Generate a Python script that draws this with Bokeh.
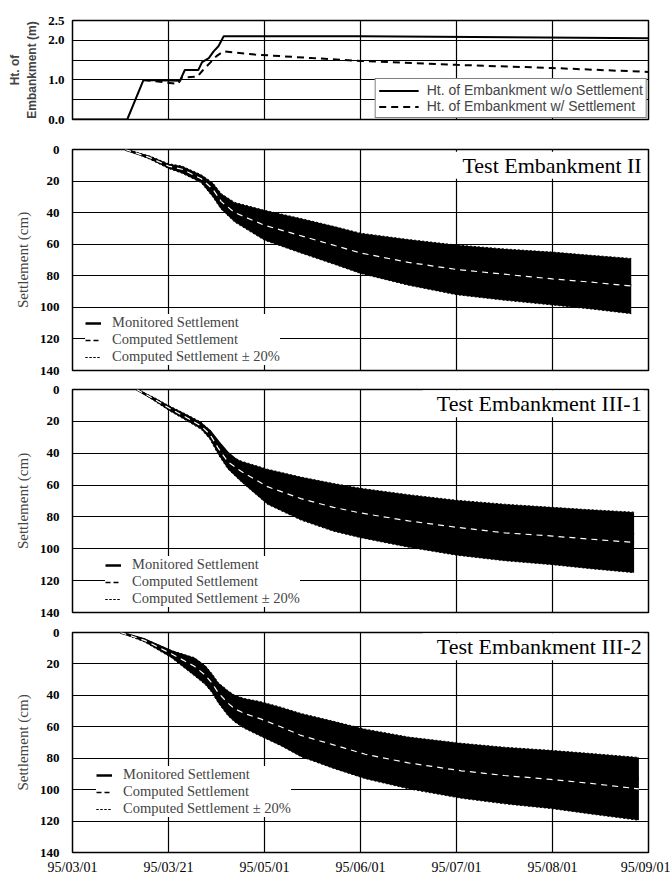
from bokeh.plotting import figure
from bokeh.layouts import column
from bokeh.models import Range1d, FixedTicker, Legend, LegendItem, Label, PrintfTickFormatter
from bokeh.embed import file_html
from bokeh.resources import INLINE

# ---------------- data ----------------
# x positions: months elapsed after 95/03/01 (one grid column per month)
month_ticks = [0, 1, 2, 3, 4, 5, 6]
month_labels = ["95/03/01", "95/03/21", "95/05/01", "95/06/01", "95/07/01", "95/08/01", "95/09/01"]

# Height of embankment (m)
ht_wo_x = [0, 0.57, 0.74, 1.12, 1.17, 1.31, 1.35, 1.42, 1.47, 1.52, 1.575, 3.0, 6.0]
ht_wo = [0, 0, 1.0, 0.98, 1.25, 1.25, 1.45, 1.55, 1.72, 1.85, 2.1, 2.1, 2.05]
ht_w_x = [0.74, 1.10, 1.14, 1.30, 1.36, 1.44, 1.50, 1.57, 1.9, 2.5, 3.0, 4.0, 5.0, 6.0]
ht_w = [1.0, 0.9, 1.06, 1.08, 1.25, 1.45, 1.6, 1.72, 1.64, 1.55, 1.48, 1.38, 1.3, 1.2]

# Test Embankment II (cm)
ii_x = [0.55, 0.8, 1.0, 1.14, 1.34, 1.46, 1.55, 1.69, 2.0, 2.4, 2.74, 3.0, 3.5, 4.0, 4.5, 5.0, 5.4, 5.82]
ii_upper = [0, 4, 9, 10.5, 16, 21, 28, 33.5, 38.5, 44, 49, 53, 57, 60.5, 63, 65, 67, 69]
ii_lower = [0, 6, 12, 15, 21, 30, 38, 46, 57.5, 66, 73, 78.5, 86, 92, 95.5, 98.5, 101, 104]
ii_computed = [0, 5, 10.5, 12.5, 18.5, 25, 33, 40, 48, 55, 61, 65.5, 71.5, 76, 79, 82, 84, 86.5]
ii_monitored = [0, 5, 10, 12, 17, 23, 31, 38, 45, 52, 58, 62, 68, 73, 77, 80, 83, 86]

# Test Embankment III-1 (cm)
iii1_x = [0.67, 0.85, 1.0, 1.2, 1.34, 1.43, 1.52, 1.62, 1.76, 2.03, 2.38, 2.72, 3.0, 3.5, 4.0, 4.5, 5.0, 5.4, 5.85]
iii1_upper = [0, 5, 10, 16, 20.5, 25.5, 33, 41, 45, 50, 55, 59, 62, 66, 69.5, 72, 74, 75.5, 77]
iii1_lower = [0, 7, 13, 20, 25, 31, 41, 50, 58, 72, 82, 89, 93, 99, 104, 107.5, 110, 112.5, 115]
iii1_computed = [0, 6, 11.5, 18, 23, 28, 37, 45.5, 51.5, 61, 68.5, 74, 77.5, 82.5, 86.5, 90, 92, 94, 96]
iii1_monitored = [0, 6, 11, 17, 22, 26, 33, 40, 47, 55, 62, 67, 71, 76, 80, 84, 87, 89, 91]

# Test Embankment III-2 (cm)
iii2_x = [0.5, 0.75, 1.03, 1.27, 1.38, 1.45, 1.52, 1.62, 1.69, 1.79, 1.96, 2.17, 2.38, 2.72, 3.05, 3.5, 4.05, 4.5, 4.98, 5.4, 5.9]
iii2_upper = [0, 4, 11.5, 16, 21, 26, 32, 37, 40, 42, 44, 47.5, 51.5, 56.5, 61.5, 66.5, 70.5, 73, 75, 77, 79.5]
iii2_lower = [0, 6, 16, 27.5, 33, 38, 45, 53, 57, 61, 66, 72, 79, 86.5, 93, 99.5, 105.5, 109, 112, 115.5, 119.5]
iii2_computed = [0, 5, 13.5, 21.5, 27, 32, 38.5, 45, 48.5, 51.5, 55, 60, 65.5, 71.5, 77.5, 83, 88, 91, 93.5, 96, 99.5]
iii2_monitored = [0, 4.5, 12, 17, 22, 28, 35, 40, 44, 48, 53, 57, 61, 66, 72, 77, 82, 85, 88, 90, 93]

settle_ticks = [0, 20, 40, 60, 80, 100, 120, 140]

SERIF = "Liberation Serif"
SANS = "Liberation Sans"
LEFT = 72
FRAME_W = 576
RIGHT = 22


def base_style(p, show_x):
    p.outline_line_color = "black"
    p.outline_line_width = 1.5
    p.outline_line_alpha = 1
    p.background_fill_color = "white"
    p.border_fill_color = "white"
    p.xaxis.ticker = FixedTicker(ticks=month_ticks)
    p.xgrid.ticker = FixedTicker(ticks=month_ticks)
    p.xgrid.grid_line_color = "black"
    p.xgrid.grid_line_width = 1.2
    p.ygrid.grid_line_color = "black"
    p.ygrid.grid_line_width = 1.2
    p.yaxis.axis_line_color = None
    p.yaxis.major_tick_line_color = None
    p.yaxis.minor_tick_line_color = None
    p.yaxis.major_tick_out = 0
    p.yaxis.major_tick_in = 0
    p.yaxis.minor_tick_out = 0
    p.yaxis.major_label_text_font = SERIF
    p.yaxis.major_label_text_font_style = "bold"
    p.yaxis.major_label_text_font_size = "13px"
    p.yaxis.major_label_text_color = "black"
    p.yaxis.major_label_standoff = 13
    if show_x:
        p.xaxis.major_label_overrides = dict(zip(month_ticks, month_labels))
        p.xaxis.axis_line_color = None
        p.xaxis.major_tick_line_color = None
        p.xaxis.minor_tick_line_color = None
        p.xaxis.major_tick_out = 0
        p.xaxis.major_tick_in = 0
        p.xaxis.minor_tick_out = 0
        p.xaxis.major_label_text_font = SERIF
        p.xaxis.major_label_text_font_size = "14px"
        p.xaxis.major_label_text_color = "black"
        p.xaxis.major_label_standoff = 7
    else:
        p.xaxis.visible = False


# ---------------- top panel: height of embankment ----------------
p1 = figure(frame_width=FRAME_W, frame_height=99, x_range=Range1d(0, 6), y_range=Range1d(0, 2.5),
            output_backend="svg", toolbar_location=None,
            min_border_left=LEFT, min_border_right=RIGHT,
            min_border_top=20, min_border_bottom=15)
base_style(p1, False)
p1.yaxis.ticker = FixedTicker(ticks=[0, 1, 2, 2.5], minor_ticks=[0.5, 1.5])
p1.ygrid.ticker = FixedTicker(ticks=[0, 1, 2, 2.5], minor_ticks=[0.5, 1.5])
p1.ygrid.minor_grid_line_color = "black"
p1.ygrid.minor_grid_line_width = 1.2
p1.yaxis.formatter = PrintfTickFormatter(format="%.1f")
p1.yaxis.axis_label = "Ht. of\nEmbankment (m)"
p1.yaxis.axis_label_text_font = SANS
p1.yaxis.axis_label_text_font_style = "bold"
p1.yaxis.axis_label_text_font_size = "12px"
p1.yaxis.axis_label_standoff = 6
p1.yaxis.major_label_standoff = 8

r_wo = p1.line(ht_wo_x, ht_wo, line_color="black", line_width=2)
r_w = p1.line(ht_w_x, ht_w, line_color="black", line_width=2, line_dash="7 5")

leg1 = Legend(items=[LegendItem(label="Ht. of Embankment w/o Settlement", renderers=[r_wo]),
                     LegendItem(label="Ht. of Embankment w/ Settlement", renderers=[r_w])],
              location="bottom_right", margin=1, padding=3, spacing=0,
              label_height=15, glyph_height=15, glyph_width=40, label_standoff=8,
              label_text_font=SANS, label_text_font_size="14px",
              border_line_color="black", border_line_width=1,
              background_fill_color="white", background_fill_alpha=1)
p1.add_layout(leg1)


# ---------------- settlement panels ----------------
def settle_panel(x, upper, lower, computed, monitored, name, frame_h, top, bottom,
                 show_x, leg_loc, title_y):
    p = figure(frame_width=FRAME_W, frame_height=frame_h, x_range=Range1d(0, 6), y_range=Range1d(140, 0),
               output_backend="svg", toolbar_location=None,
               min_border_left=LEFT, min_border_right=RIGHT,
               min_border_top=top, min_border_bottom=bottom)
    base_style(p, show_x)
    p.yaxis.ticker = FixedTicker(ticks=settle_ticks)
    p.ygrid.ticker = FixedTicker(ticks=settle_ticks)
    p.yaxis.axis_label = "Settlement (cm)"
    p.yaxis.axis_label_text_font = SERIF
    p.yaxis.axis_label_text_font_style = "normal"
    p.yaxis.axis_label_text_font_size = "15px"
    p.yaxis.axis_label_standoff = 6

    r_comp = p.line(x, computed, line_color="black", line_width=1.5, line_dash="5 3")
    p.varea(x=x, y1=upper, y2=lower, fill_color="black", fill_alpha=1)
    r_up = p.line(x, upper, line_color="black", line_width=1, line_dash="2 2")
    r_lo = p.line(x, lower, line_color="black", line_width=1, line_dash="2 2")
    r_mon = p.line(x, monitored, line_color="black", line_width=2.5)
    p.line(x, computed, line_color="white", line_width=1.2, line_dash="6 5")

    leg = Legend(items=[LegendItem(label="Monitored Settlement", renderers=[r_mon]),
                        LegendItem(label="Computed Settlement", renderers=[r_comp]),
                        LegendItem(label="Computed Settlement \u00b1 20%", renderers=[r_up, r_lo])],
                 location=leg_loc, margin=0, padding=4, spacing=0,
                 label_height=14, glyph_height=14, glyph_width=16, label_standoff=11,
                 label_text_font=SERIF, label_text_font_size="14.5px",
                 label_text_line_height=0.9,
                 border_line_color=None,
                 background_fill_color="white", background_fill_alpha=1)
    p.add_layout(leg)

    p.add_layout(Label(x=5.95, y=title_y, text=name, text_align="right", text_baseline="middle",
                       text_font=SERIF, text_font_size="22px", text_color="black",
                       background_fill_color="white", background_fill_alpha=1,
                       padding=dict(left=14, right=2, top=1, bottom=1)))
    return p


p2 = settle_panel(ii_x, ii_upper, ii_lower, ii_computed, ii_monitored, "Test Embankment II",
                  221, 15, 9, False, (13, 5), 10)
p3 = settle_panel(iii1_x, iii1_upper, iii1_lower, iii1_computed, iii1_monitored, "Test Embankment III-1",
                  223, 10, 10, False, (33, 5), 9)
p4 = settle_panel(iii2_x, iii2_upper, iii2_lower, iii2_computed, iii2_monitored, "Test Embankment III-2",
                  220, 10, 27, True, (24, 35), 9)

layout = column(p1, p2, p3, p4, spacing=0)
open("out.html", "w").write(file_html(layout, INLINE))
